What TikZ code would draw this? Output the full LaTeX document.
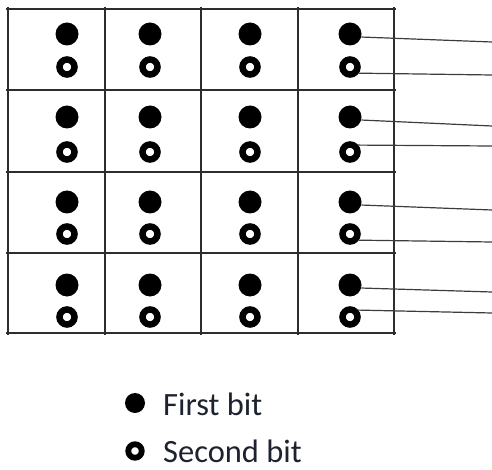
\documentclass[tikz,border=0pt]{standalone}
\usepackage{fontspec}
\setmainfont{Carlito}
\definecolor{gridline}{RGB}{45,45,45}
\definecolor{wire}{RGB}{60,60,60}
\definecolor{legendtext}{RGB}{28,34,46}
\begin{document}
\begin{tikzpicture}[x=1pt,y=-1pt,
  gridstroke/.style={draw=gridline,line width=1.8pt},
  fullbit/.style={circle,fill=black,inner sep=0pt,minimum size=23pt},
  ringbit/.style={circle,draw=black,line width=6.5pt,inner sep=0pt,minimum size=15pt},
  legfull/.style={circle,fill=black,inner sep=0pt,minimum size=20pt},
  legring/.style={circle,draw=black,line width=5.8pt,inner sep=0pt,minimum size=13.5pt},
  wirestroke/.style={draw=wire,line width=1.2pt},
  legtext/.style={anchor=base west,inner sep=0pt,text=legendtext,font=\fontsize{32.5}{38}\selectfont}
]
\useasboundingbox (0,0) rectangle (492,470);

% 4x4 grid of cells
\foreach \yy in {9,90,172,253,333}
  \draw[gridstroke] (6,\yy) -- (396,\yy);
\foreach \xx in {8,105,201,298,394}
  \draw[gridstroke] (\xx,7) -- (\xx,335);

% two bits per cell: filled = first bit, ring = second bit
\foreach \r/\yf/\yo in {1/34/67,2/117/152,3/202/234,4/285/317}{
  \foreach \c/\xx in {1/67,2/150,3/250,4/350}{
    \node[fullbit] (f\r\c) at (\xx,\yf) {};
    \node[ringbit] (o\r\c) at (\xx,\yo) {};
  }
}

% outgoing wires from the last column
\coordinate (ef1) at (492,42);
\coordinate (eo1) at (492,75);
\coordinate (ef2) at (492,126);
\coordinate (eo2) at (492,146);
\coordinate (ef3) at (492,210);
\coordinate (eo3) at (492,242);
\coordinate (ef4) at (492,292);
\coordinate (eo4) at (492,313);

\draw[wirestroke] (f14.-15) -- (ef1);
\draw[wirestroke] (o14.-35) -- (eo1);
\draw[wirestroke] (f24.-15) -- (ef2);
\draw[wirestroke] (o24.40) -- (eo2);
\draw[wirestroke] (f34.-15) -- (ef3);
\draw[wirestroke] (o34.-35) -- (eo3);
\draw[wirestroke] (f44.-15) -- (ef4);
\draw[wirestroke] (o44.40) -- (eo4);

% legend
\node[legfull] (lf) at (135,403) {};
\node[legring] (lo) at (135,451) {};
\node[legtext] (lft) at (163,415) {First bit};
\node[legtext] (lot) at (163,462) {Second bit};
\end{tikzpicture}
\end{document}
